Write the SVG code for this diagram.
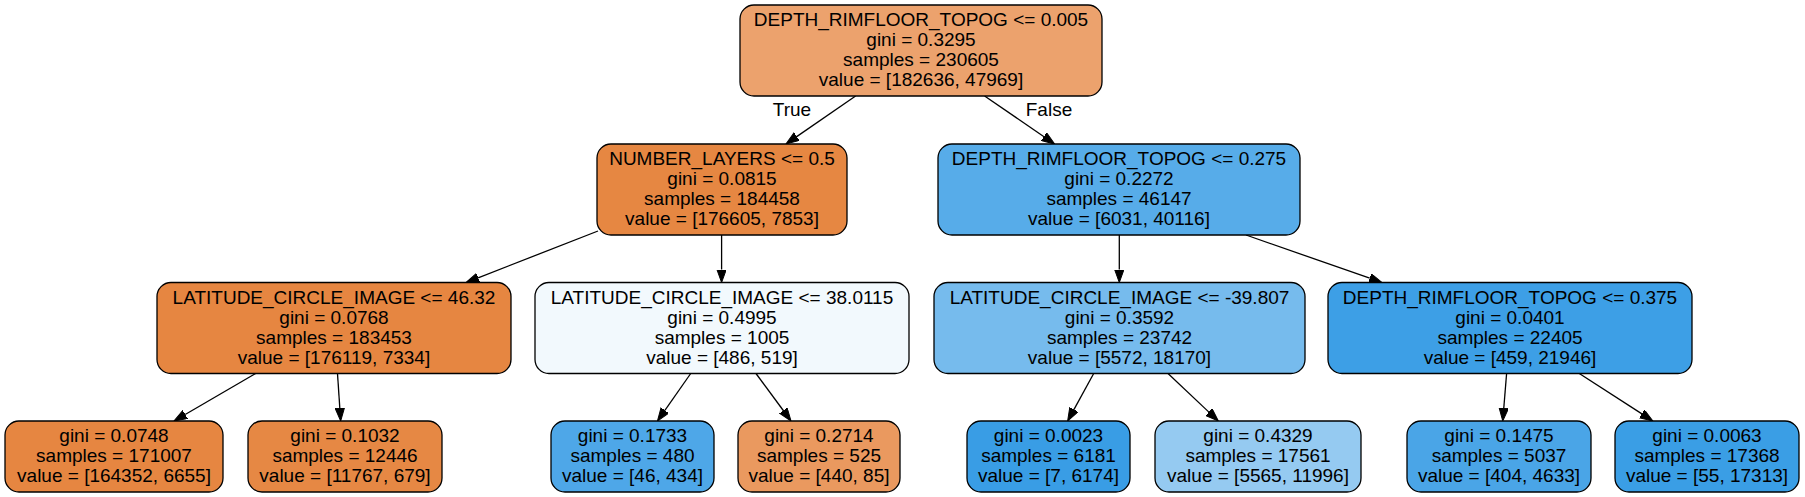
<svg xmlns="http://www.w3.org/2000/svg" width="1805" height="497" viewBox="0 0 1805 497">
<style>
  .n rect { stroke: #000; stroke-width: 1.3; }
  text { font-family: "Liberation Sans", Arial, Helvetica, sans-serif; font-size: 19px; fill: #000; text-anchor: middle; }
  .e line { stroke: #000; stroke-width: 1.3; fill: none; marker-end: url(#arr); }
</style>
<defs>
  <marker id="arr" markerUnits="userSpaceOnUse" markerWidth="14" markerHeight="10" refX="0" refY="4.7" orient="auto">
    <path d="M0,0 L13,4.7 L0,9.4 z" fill="#000" stroke="#000" stroke-width="1"/>
  </marker>
</defs>
<rect x="0" y="0" width="1805" height="497" fill="#fff"/>

<g id="edges" class="e">
  <line x1="855.6" y1="96" x2="796.7" y2="136.6"/>
  <line x1="984.6" y1="96" x2="1044" y2="136.7"/>
  <line x1="598" y1="231" x2="478.1" y2="277.8"/>
  <line x1="721.6" y1="235" x2="721.6" y2="269.5"/>
  <line x1="1119.3" y1="235" x2="1119.3" y2="269.5"/>
  <line x1="1246" y1="235" x2="1369.7" y2="278.2"/>
  <line x1="255.6" y1="373.5" x2="185.2" y2="414.5"/>
  <line x1="337.5" y1="373.5" x2="339.8" y2="408"/>
  <line x1="690.7" y1="373.5" x2="664.9" y2="410.4"/>
  <line x1="756" y1="373.5" x2="783.3" y2="410.5"/>
  <line x1="1093.7" y1="373.5" x2="1073.9" y2="409.6"/>
  <line x1="1168" y1="373.5" x2="1208.9" y2="412.1"/>
  <line x1="1506.6" y1="373.5" x2="1503.8" y2="408"/>
  <line x1="1579.3" y1="373.5" x2="1641.9" y2="413.9"/>
  <text x="792" y="116">True</text>
  <text x="1049" y="116">False</text>
</g>

<g id="n0" class="n">
  <rect x="740" y="5" width="362" height="91" rx="14" fill="#eca26d"/>
  <text x="921" y="26">DEPTH_RIMFLOOR_TOPOG &lt;= 0.005</text>
  <text x="921" y="46">gini = 0.3295</text>
  <text x="921" y="66">samples = 230605</text>
  <text x="921" y="86">value = [182636, 47969]</text>
</g>

<g id="n1" class="n">
  <rect x="597" y="144" width="250" height="91" rx="14" fill="#e68742"/>
  <text x="722" y="165">NUMBER_LAYERS &lt;= 0.5</text>
  <text x="722" y="185">gini = 0.0815</text>
  <text x="722" y="205">samples = 184458</text>
  <text x="722" y="225">value = [176605, 7853]</text>
</g>

<g id="n2" class="n">
  <rect x="157" y="282.5" width="354" height="91" rx="14" fill="#e68641"/>
  <text x="334" y="303.5">LATITUDE_CIRCLE_IMAGE &lt;= 46.32</text>
  <text x="334" y="323.5">gini = 0.0768</text>
  <text x="334" y="343.5">samples = 183453</text>
  <text x="334" y="363.5">value = [176119, 7334]</text>
</g>

<g id="n3" class="n">
  <rect x="5" y="421" width="218" height="71" rx="14" fill="#e68641"/>
  <text x="114" y="442">gini = 0.0748</text>
  <text x="114" y="462">samples = 171007</text>
  <text x="114" y="482">value = [164352, 6655]</text>
</g>

<g id="n4" class="n">
  <rect x="248" y="421" width="194" height="71" rx="14" fill="#e68844"/>
  <text x="345" y="442">gini = 0.1032</text>
  <text x="345" y="462">samples = 12446</text>
  <text x="345" y="482">value = [11767, 679]</text>
</g>

<g id="n5" class="n">
  <rect x="535" y="282.5" width="374" height="91" rx="14" fill="#f2f9fd"/>
  <text x="722" y="303.5">LATITUDE_CIRCLE_IMAGE &lt;= 38.0115</text>
  <text x="722" y="323.5">gini = 0.4995</text>
  <text x="722" y="343.5">samples = 1005</text>
  <text x="722" y="363.5">value = [486, 519]</text>
</g>

<g id="n6" class="n">
  <rect x="551" y="421" width="163" height="71" rx="14" fill="#4ea7e8"/>
  <text x="632.5" y="442">gini = 0.1733</text>
  <text x="632.5" y="462">samples = 480</text>
  <text x="632.5" y="482">value = [46, 434]</text>
</g>

<g id="n7" class="n">
  <rect x="738" y="421" width="162" height="71" rx="14" fill="#ea995f"/>
  <text x="819" y="442">gini = 0.2714</text>
  <text x="819" y="462">samples = 525</text>
  <text x="819" y="482">value = [440, 85]</text>
</g>

<g id="n8" class="n">
  <rect x="938" y="144" width="362" height="91" rx="14" fill="#57ace9"/>
  <text x="1119" y="165">DEPTH_RIMFLOOR_TOPOG &lt;= 0.275</text>
  <text x="1119" y="185">gini = 0.2272</text>
  <text x="1119" y="205">samples = 46147</text>
  <text x="1119" y="225">value = [6031, 40116]</text>
</g>

<g id="n9" class="n">
  <rect x="934" y="282.5" width="371" height="91" rx="14" fill="#76bbed"/>
  <text x="1119.5" y="303.5">LATITUDE_CIRCLE_IMAGE &lt;= -39.807</text>
  <text x="1119.5" y="323.5">gini = 0.3592</text>
  <text x="1119.5" y="343.5">samples = 23742</text>
  <text x="1119.5" y="363.5">value = [5572, 18170]</text>
</g>

<g id="n10" class="n">
  <rect x="967" y="421" width="163" height="71" rx="14" fill="#399de5"/>
  <text x="1048.5" y="442">gini = 0.0023</text>
  <text x="1048.5" y="462">samples = 6181</text>
  <text x="1048.5" y="482">value = [7, 6174]</text>
</g>

<g id="n11" class="n">
  <rect x="1155" y="421" width="206" height="71" rx="14" fill="#95caf1"/>
  <text x="1258" y="442">gini = 0.4329</text>
  <text x="1258" y="462">samples = 17561</text>
  <text x="1258" y="482">value = [5565, 11996]</text>
</g>

<g id="n12" class="n">
  <rect x="1328" y="282.5" width="364" height="91" rx="14" fill="#3d9fe6"/>
  <text x="1510" y="303.5">DEPTH_RIMFLOOR_TOPOG &lt;= 0.375</text>
  <text x="1510" y="323.5">gini = 0.0401</text>
  <text x="1510" y="343.5">samples = 22405</text>
  <text x="1510" y="363.5">value = [459, 21946]</text>
</g>

<g id="n13" class="n">
  <rect x="1407" y="421" width="184" height="71" rx="14" fill="#4aa5e7"/>
  <text x="1499" y="442">gini = 0.1475</text>
  <text x="1499" y="462">samples = 5037</text>
  <text x="1499" y="482">value = [404, 4633]</text>
</g>

<g id="n14" class="n">
  <rect x="1615" y="421" width="184" height="71" rx="14" fill="#3a9ee5"/>
  <text x="1707" y="442">gini = 0.0063</text>
  <text x="1707" y="462">samples = 17368</text>
  <text x="1707" y="482">value = [55, 17313]</text>
</g>
</svg>
